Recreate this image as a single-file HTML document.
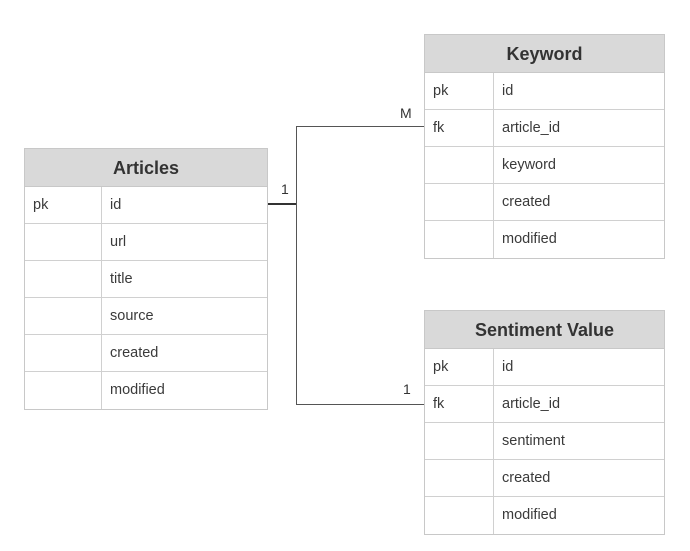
<!DOCTYPE html>
<html><head><style>
body{margin:0;width:690px;height:551px;background:#fff;position:relative;font-family:"Liberation Sans",Arial,sans-serif;overflow:hidden}
.t{position:absolute;border:1px solid #c8c8c8;box-sizing:border-box;background:#fff}
.h{height:38px;background:#d9d9d9;border-bottom:1px solid #c8c8c8;box-sizing:border-box;text-align:center;font-weight:bold;font-size:18px;line-height:38px;color:#333}
.r{height:37px;border-bottom:1px solid #d0d0d0;box-sizing:border-box;display:flex;font-size:14.5px;color:#3a3a3a;line-height:37px}
.r:last-child{border-bottom:none}
.a{width:69px;border-right:1px solid #d0d0d0;padding-left:8px;box-sizing:border-box}
.b{padding-left:8px}
.l{position:absolute;background:#333}
.lb{position:absolute;font-size:14px;color:#333}
</style></head><body>
<div class="t" style="left:24px;top:148px;width:244px;height:262px">
<div class="h">Articles</div>
<div class="r"><div class="a" style="width:77px">pk</div><div class="b">id</div></div>
<div class="r"><div class="a" style="width:77px"></div><div class="b">url</div></div>
<div class="r"><div class="a" style="width:77px"></div><div class="b">title</div></div>
<div class="r"><div class="a" style="width:77px"></div><div class="b">source</div></div>
<div class="r"><div class="a" style="width:77px"></div><div class="b">created</div></div>
<div class="r"><div class="a" style="width:77px"></div><div class="b">modified</div></div>
</div>
<div class="t" style="left:424px;top:34px;width:241px;height:225px">
<div class="h">Keyword</div>
<div class="r"><div class="a">pk</div><div class="b">id</div></div>
<div class="r"><div class="a">fk</div><div class="b">article_id</div></div>
<div class="r"><div class="a"></div><div class="b">keyword</div></div>
<div class="r"><div class="a"></div><div class="b">created</div></div>
<div class="r"><div class="a"></div><div class="b">modified</div></div>
</div>
<div class="t" style="left:424px;top:310px;width:241px;height:225px">
<div class="h">Sentiment Value</div>
<div class="r"><div class="a">pk</div><div class="b">id</div></div>
<div class="r"><div class="a">fk</div><div class="b">article_id</div></div>
<div class="r"><div class="a"></div><div class="b">sentiment</div></div>
<div class="r"><div class="a"></div><div class="b">created</div></div>
<div class="r"><div class="a"></div><div class="b">modified</div></div>
</div>
<div class="l" style="left:268px;top:203px;width:29px;height:2px"></div>
<div class="l" style="left:296px;top:126px;width:1px;height:279px;background:#555"></div>
<div class="l" style="left:296px;top:126px;width:128px;height:1px;background:#555"></div>
<div class="l" style="left:296px;top:404px;width:128px;height:1px;background:#555"></div>
<div class="lb" style="left:281px;top:181px">1</div>
<div class="lb" style="left:400px;top:105px">M</div>
<div class="lb" style="left:403px;top:381px">1</div>
</body></html>
